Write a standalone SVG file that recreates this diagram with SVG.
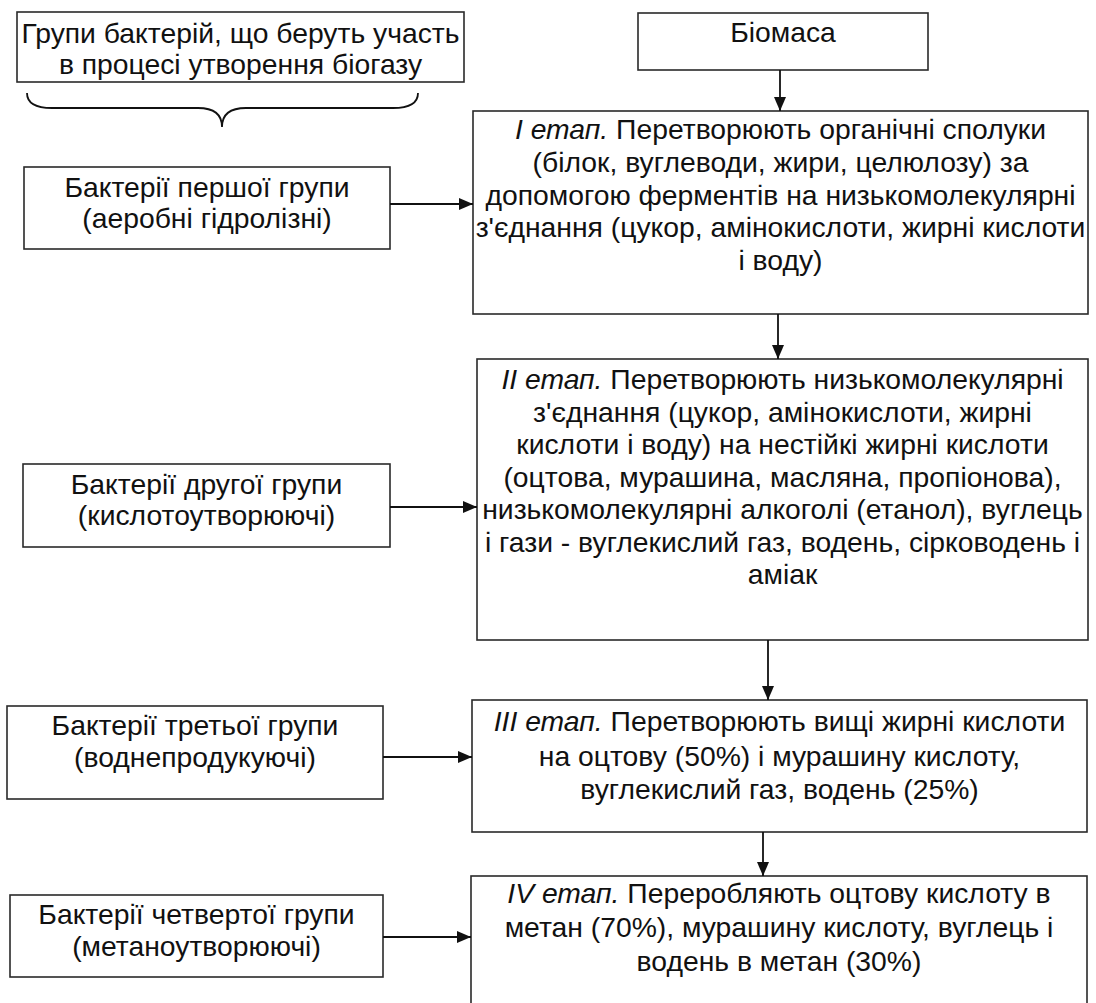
<svg xmlns="http://www.w3.org/2000/svg" width="1096" height="1003" viewBox="0 0 1096 1003">
<style>
.box{fill:#fff;stroke:#2a2a2a;stroke-width:1.6}
.t{font-family:"Liberation Sans",Arial,sans-serif;font-size:28.3px;fill:#111;text-anchor:middle}
.i{font-style:italic}
.c{stroke:#111;stroke-width:1.8;fill:none}
</style>
<defs>
<marker id="ah" markerUnits="userSpaceOnUse" markerWidth="14" markerHeight="12" refX="14" refY="6" orient="auto">
<path d="M0,0 L14,6 L0,12 z" fill="#111"/>
</marker>
</defs>
<rect width="1096" height="1003" fill="#fff"/>

<g id="groups-title">
<rect class="box" x="17" y="12" width="447" height="70"/>
<text class="t" x="240.5" y="43">Групи бактерій, що беруть участь</text>
<text class="t" x="240.5" y="74">в процесі утворення біогазу</text>
<path class="c" d="M27,93 Q27,108 52,108 L198,108 Q222,108 222,127 Q222,108 246,108 L393,108 Q418,108 418,93" stroke-width="1.5"/>
</g>

<g id="biomass">
<rect class="box" x="638" y="13" width="290" height="57"/>
<text class="t" x="783" y="42">Біомаса</text>
</g>

<g id="stage1">
<rect class="box" x="473" y="111" width="615" height="203"/>
<text class="t" x="780.5" y="139"><tspan class="i">I етап.</tspan> Перетворюють органічні сполуки</text>
<text class="t" x="780.5" y="172">(білок, вуглеводи, жири, целюлозу) за</text>
<text class="t" x="780.5" y="205">допомогою ферментів на низькомолекулярні</text>
<text class="t" x="780.5" y="237">з'єднання (цукор, амінокислоти, жирні кислоти</text>
<text class="t" x="780.5" y="270">і воду)</text>
</g>

<g id="bact1">
<rect class="box" x="24" y="167" width="366" height="82"/>
<text class="t" x="207" y="197">Бактерії першої групи</text>
<text class="t" x="207" y="228">(аеробні гідролізні)</text>
</g>

<g id="stage2">
<rect class="box" x="477" y="359" width="611" height="281"/>
<text class="t" x="782.5" y="389"><tspan class="i">II етап.</tspan> Перетворюють низькомолекулярні</text>
<text class="t" x="782.5" y="421.5">з'єднання (цукор, амінокислоти, жирні</text>
<text class="t" x="782.5" y="454">кислоти і воду) на нестійкі жирні кислоти</text>
<text class="t" x="782.5" y="486.5">(оцтова, мурашина, масляна, пропіонова),</text>
<text class="t" x="782.5" y="519">низькомолекулярні алкоголі (етанол), вуглець</text>
<text class="t" x="782.5" y="551.5">і гази - вуглекислий газ, водень, сірководень і</text>
<text class="t" x="782.5" y="584">аміак</text>
</g>

<g id="bact2">
<rect class="box" x="23" y="464" width="367" height="83"/>
<text class="t" x="206.5" y="494">Бактерії другої групи</text>
<text class="t" x="206.5" y="525">(кислотоутворюючі)</text>
</g>

<g id="stage3">
<rect class="box" x="472" y="700" width="615" height="132"/>
<text class="t" x="779.5" y="731"><tspan class="i">III етап.</tspan> Перетворюють вищі жирні кислоти</text>
<text class="t" x="779.5" y="766">на оцтову (50%) і мурашину кислоту,</text>
<text class="t" x="779.5" y="799">вуглекислий газ, водень (25%)</text>
</g>

<g id="bact3">
<rect class="box" x="7" y="706" width="376" height="93"/>
<text class="t" x="195" y="735">Бактерії третьої групи</text>
<text class="t" x="195" y="767">(воднепродукуючі)</text>
</g>

<g id="stage4">
<rect class="box" x="471" y="876" width="616" height="140"/>
<text class="t" x="779" y="903"><tspan class="i">IV етап.</tspan> Переробляють оцтову кислоту в</text>
<text class="t" x="779" y="937">метан (70%), мурашину кислоту, вуглець і</text>
<text class="t" x="779" y="971">водень в метан (30%)</text>
</g>

<g id="bact4">
<rect class="box" x="10" y="895" width="373" height="82"/>
<text class="t" x="196.5" y="924">Бактерії четвертої групи</text>
<text class="t" x="196.5" y="956">(метаноутворюючі)</text>
</g>

<g id="connectors">
<line class="c" x1="780" y1="70" x2="780" y2="111" marker-end="url(#ah)"/>
<line class="c" x1="778" y1="314" x2="778" y2="359" marker-end="url(#ah)"/>
<line class="c" x1="768" y1="640" x2="768" y2="700" marker-end="url(#ah)"/>
<line class="c" x1="763" y1="832" x2="763" y2="876" marker-end="url(#ah)"/>
<line class="c" x1="390" y1="204" x2="473" y2="204" marker-end="url(#ah)"/>
<line class="c" x1="390" y1="507" x2="477" y2="507" marker-end="url(#ah)"/>
<line class="c" x1="383" y1="757" x2="472" y2="757" marker-end="url(#ah)"/>
<line class="c" x1="383" y1="937" x2="471" y2="937" marker-end="url(#ah)"/>
</g>
</svg>
